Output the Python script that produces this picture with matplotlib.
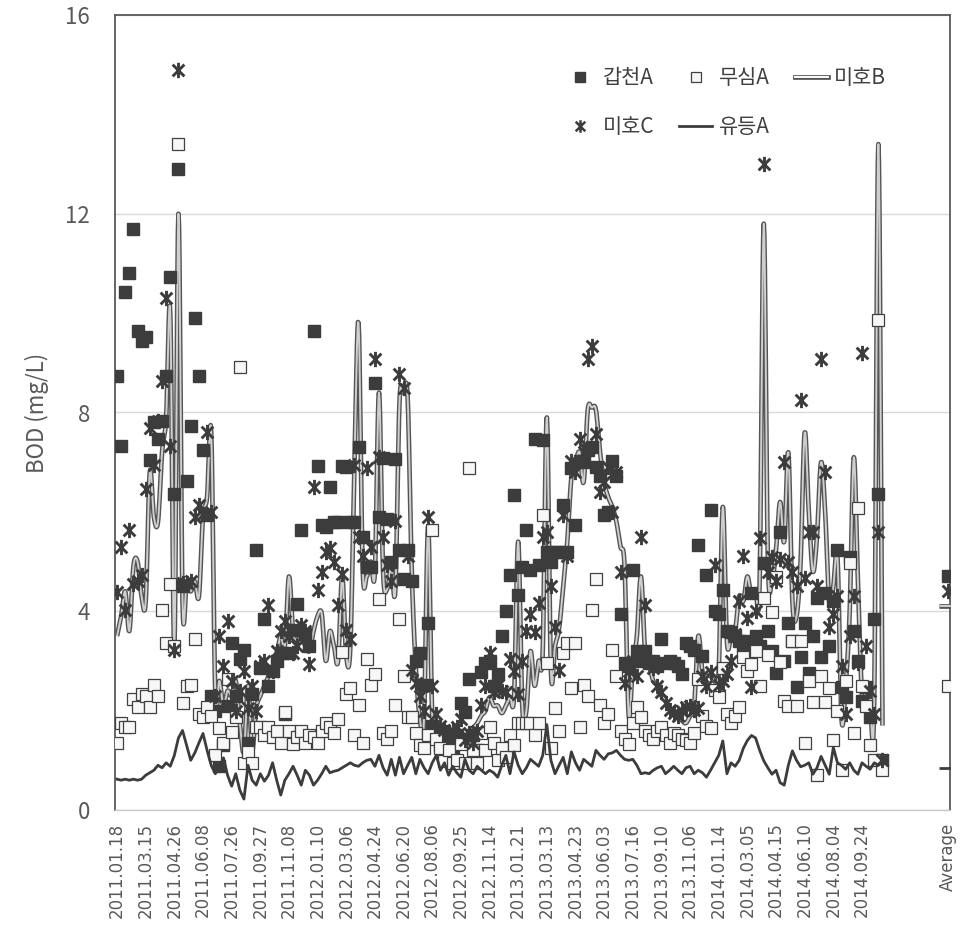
import numpy as np
import matplotlib
matplotlib.use("Agg")
import matplotlib.pyplot as plt
from matplotlib.path import Path
from matplotlib.lines import Line2D

plt.rcParams['font.family'] = ['Noto Sans CJK KR', 'DejaVu Sans']
plt.rcParams['axes.unicode_minus'] = False

# ---- data (BOD, mg/L), one value per sampling date ----
date_labels = [
    "2011.01.18", "2011.03.15", "2011.04.26", "2011.06.08", "2011.07.26",
    "2011.09.27", "2011.11.08", "2012.01.10", "2012.03.06", "2012.04.24",
    "2012.06.20", "2012.08.06", "2012.09.25", "2012.11.14", "2013.01.21",
    "2013.03.13", "2013.04.23", "2013.06.03", "2013.07.16", "2013.09.10",
    "2013.11.06", "2014.01.14", "2014.03.05", "2014.04.15", "2014.06.10",
    "2014.08.04", "2014.09.24",
]
avg_label = "Average"

gapcheon_a = [
    8.73, 7.32, 10.42, 10.81, 11.7, 9.64, 9.44, 9.51, 7.04, 7.8,
    7.46, 7.83, 8.73, 10.73, 6.35, 12.9, 4.5, 6.62, 7.72, 9.91,
    8.73, 7.24, 5.94, 2.3, 2.0, 0.88, 1.3, 2.09, 3.37, 2.3,
    3.04, 3.22, 1.35, 2.34, 5.23, 2.86, 3.84, 2.5, 2.8, 3.0,
    3.15, 1.94, 3.15, 3.62, 4.15, 5.63, 3.55, 3.3, 9.64, 6.93,
    5.74, 5.7, 6.5, 5.8, 5.8, 6.93, 6.9, 5.8, 5.8, 7.3,
    5.5, 4.9, 4.9, 8.6, 5.9, 7.08, 5.85, 5.0, 7.06, 5.23,
    4.65, 5.23, 4.6, 3.0, 3.15, 2.52, 3.77, 1.7, 1.5, 1.3,
    1.6, 1.4, 1.2, 1.5, 2.16, 1.98, 2.63, 1.5, 1.2, 2.78,
    2.96, 3.0, 2.5, 2.74, 3.51, 4.0, 4.72, 6.33, 4.32, 4.9,
    5.63, 4.83, 7.46, 4.94, 7.45, 5.19, 5.0, 5.2, 5.2, 6.14,
    5.2, 6.88, 5.74, 7.02, 7.0, 7.24, 7.3, 6.91, 6.73, 5.93,
    6.0, 7.02, 6.73, 3.95, 2.96, 2.9, 4.83, 3.2, 3.0, 3.2,
    2.96, 3.0, 2.9, 3.44, 2.96, 3.0, 2.96, 2.9, 2.74, 3.36,
    3.3, 3.22, 5.34, 3.1, 4.72, 6.03, 4.0, 3.95, 4.43, 3.6,
    3.58, 3.5, 3.4, 3.3, 3.4, 4.36, 3.5, 3.3, 4.97, 3.6,
    3.2, 2.76, 5.6, 3.0, 3.77, 3.4, 2.47, 3.07, 3.77, 2.76,
    3.5, 4.27, 3.07, 4.36, 3.3, 4.2, 5.24, 2.47, 2.28, 5.1,
    3.6, 3.0, 2.2, 2.47, 1.87, 3.85, 6.35, 1.0,
]
musim_a = [
    1.35, 1.76, 1.68, 1.68, 2.23, 2.08, 2.34, 2.3, 2.08, 2.52,
    2.3, 4.02, 3.37, 4.54, 3.3, 13.4, 2.16, 2.5, 2.52, 3.44,
    1.94, 1.87, 2.08, 1.9, 1.1, 1.65, 1.35, 2.63, 1.57, 1.87,
    8.92, 0.95, 1.17, 0.95, 1.68, 1.68, 1.5, 1.68, 1.46, 1.6,
    1.35, 1.98, 1.6, 1.32, 1.46, 1.6, 1.35, 1.5, 1.46, 1.35,
    1.6, 1.76, 1.68, 1.54, 1.83, 3.18, 2.34, 2.45, 1.5, 2.12,
    1.35, 3.04, 2.52, 2.74, 4.24, 1.54, 1.43, 1.6, 2.12, 3.84,
    2.7, 1.87, 1.87, 1.54, 1.3, 1.24, 1.5, 5.63, 1.43, 1.24,
    0.99, 1.2, 0.95, 1.0, 1.32, 0.95, 6.88, 1.2, 0.95, 1.54,
    1.2, 1.68, 1.35, 1.0, 1.24, 1.06, 1.5, 1.3, 1.76, 1.76,
    1.76, 1.76, 1.5, 1.76, 5.94, 2.96, 1.24, 2.05, 1.6, 3.15,
    3.37, 2.45, 3.37, 1.68, 2.52, 2.3, 4.02, 4.65, 2.12, 1.76,
    1.94, 3.22, 2.7, 1.6, 1.43, 1.32, 1.76, 2.08, 1.87, 1.6,
    1.5, 1.43, 1.6, 1.68, 1.5, 1.35, 1.54, 1.5, 1.43, 1.4,
    1.35, 1.54, 2.63, 1.9, 1.7, 1.65, 2.41, 2.27, 2.85, 1.94,
    1.76, 1.9, 2.08, 3.07, 2.8, 2.93, 3.2, 2.5, 4.27, 3.11,
    3.99, 4.68, 2.97, 2.2, 2.1, 3.4, 2.1, 3.4, 1.35, 2.6,
    2.18, 0.7, 2.69, 2.18, 2.45, 1.4, 1.99, 0.8, 2.6, 4.97,
    1.55, 6.07, 2.5, 2.1, 1.3, 1.0, 9.86, 0.8,
]
miho_b = [
    3.5, 3.9, 4.4, 3.6, 4.9, 5.0, 4.3, 4.2, 6.8, 5.9,
    5.8, 7.2, 7.9, 10.0, 3.25, 12.0, 4.2, 4.6, 4.4, 4.6,
    4.3, 5.9, 6.3, 7.6, 2.34, 2.6, 2.1, 2.4, 2.3, 2.6,
    1.75, 1.17, 2.5, 1.24, 2.05, 2.3, 2.5, 2.7, 2.85, 3.15,
    3.5, 3.3, 4.7, 3.6, 3.4, 3.5, 3.3, 3.2, 3.6, 3.9,
    3.95, 3.0, 3.6, 3.3, 3.0, 4.7, 3.1, 3.3, 6.95, 9.8,
    4.9, 4.7, 5.0, 4.8, 8.4, 4.8, 4.45, 4.9, 4.45, 8.2,
    8.4, 8.3, 4.8, 2.85, 1.83, 1.83, 5.7, 1.9, 1.75, 1.65,
    1.6, 1.55, 1.55, 1.5, 1.55, 1.5, 1.55, 1.65, 1.75, 1.9,
    2.0, 2.27, 2.1, 2.1, 1.95, 2.1, 2.27, 2.3, 5.4, 2.1,
    2.0, 3.2, 2.5, 3.0, 3.2, 7.9, 2.8, 3.3, 3.66, 4.5,
    5.4, 6.7, 7.0, 7.2, 6.6, 8.05, 8.1, 8.05, 7.2, 6.6,
    6.3, 6.1, 5.8, 5.3, 4.9, 1.9, 2.9, 3.5, 4.7, 3.2,
    2.9, 2.6, 2.5, 2.3, 2.2, 2.05, 2.0, 1.9, 1.8, 1.75,
    1.9, 2.1, 3.5, 2.8, 2.7, 2.7, 2.6, 2.8, 6.1, 3.4,
    3.5, 3.6, 4.3, 4.2, 4.7, 4.3, 4.4, 4.6, 11.8, 5.06,
    4.6, 5.24, 6.2, 5.4, 7.2, 4.2, 3.9, 5.0, 7.6, 6.0,
    4.8, 5.5, 7.0, 6.0, 4.2, 4.5, 5.1, 1.83, 2.5, 4.0,
    7.1, 4.6, 2.3, 2.0, 2.0, 2.3, 13.4, 1.7,
]
miho_c = [
    4.39, 5.3, 4.02, 5.63, 4.54, 4.6, 4.72, 6.47, 7.68, 6.95,
    7.83, 8.63, 10.31, 7.32, 3.22, 14.9, 4.57, 4.57, 4.6, 5.89,
    6.14, 5.95, 7.61, 6.0, 2.3, 3.51, 2.89, 3.8, 2.6, 2.0,
    2.4, 2.8, 2.05, 2.5, 2.0, 2.9, 3.0, 4.13, 2.8, 3.2,
    3.6, 3.8, 3.5, 3.15, 3.3, 3.73, 3.6, 2.93, 6.51, 4.43,
    4.79, 5.19, 5.27, 5.0, 4.13, 4.75, 3.62, 3.44, 6.95, 5.5,
    5.12, 6.88, 5.3, 9.07, 7.1, 5.5, 4.94, 4.61, 5.82, 8.78,
    8.49, 5.12, 2.82, 2.56, 2.3, 2.0, 5.89, 2.5, 1.94, 1.7,
    1.61, 1.5, 1.6, 1.68, 1.83, 1.4, 1.54, 1.35, 1.6, 2.12,
    2.5, 3.15, 2.38, 2.52, 2.4, 2.38, 3.04, 2.8, 2.34, 3.0,
    3.6, 3.95, 3.58, 4.17, 5.49, 5.6, 4.5, 3.69, 2.82, 5.93,
    5.12, 7.02, 6.8, 7.46, 7.2, 9.07, 9.33, 7.57, 6.4, 6.6,
    6.9, 6.0, 6.8, 4.79, 2.56, 2.8, 3.0, 2.7, 5.49, 4.13,
    3.0, 2.85, 2.5, 2.38, 2.16, 2.01, 1.95, 1.9, 2.0, 2.08,
    2.1, 2.01, 2.05, 2.7, 2.5, 2.78, 4.94, 2.52, 2.6, 2.74,
    3.0, 3.55, 4.2, 5.12, 3.86, 2.47, 4.0, 5.47, 13.0, 4.8,
    5.1, 4.6, 5.06, 7.0, 5.0, 4.8, 4.5, 8.25, 4.67, 5.6,
    5.6, 4.5, 9.07, 6.8, 3.68, 3.95, 4.3, 2.9, 1.93, 3.5,
    4.31, 2.96, 9.2, 3.3, 2.4, 1.93, 5.6, 1.0,
]
yudeung_a = [
    0.62, 0.6, 0.62, 0.6, 0.62, 0.6, 0.62, 0.7, 0.75, 0.8,
    0.9, 0.85, 0.95, 0.88, 1.1, 1.45, 1.6, 1.3, 1.0, 1.15,
    1.35, 1.54, 1.2, 0.9, 0.73, 0.85, 1.05, 0.7, 0.48, 0.73,
    0.4, 0.22, 0.9, 0.6, 0.5, 0.73, 0.58, 0.7, 0.95, 0.6,
    0.3, 0.6, 0.73, 0.88, 0.7, 0.5, 0.8, 0.7, 0.5, 0.6,
    0.73, 0.88, 0.75, 0.78, 0.8, 0.85, 0.9, 0.95, 0.9, 0.88,
    0.95, 1.0, 1.02, 0.88, 1.1, 0.85, 0.7, 1.02, 0.7, 1.06,
    0.73, 0.9, 1.06, 0.73, 1.02, 0.85, 0.73, 0.95, 1.1, 0.8,
    0.95, 0.7, 0.88, 0.75, 0.66, 1.02, 0.8, 0.73, 0.88, 0.8,
    0.73, 0.8, 0.75, 0.66, 0.9, 1.1, 0.73, 1.17, 0.9, 0.73,
    0.85, 1.02, 0.95, 0.88, 1.1, 1.72, 1.0, 0.73, 0.9, 1.06,
    0.73, 1.17, 0.95, 0.8, 1.02, 0.95, 0.88, 1.2, 1.1, 1.02,
    1.13, 1.15, 1.2, 1.1, 1.02, 1.0, 1.02, 0.9, 0.73, 0.75,
    0.73, 0.8, 0.85, 0.88, 0.73, 0.8, 0.88, 0.8, 0.73, 0.85,
    0.88, 0.73, 0.8, 0.75, 0.66, 0.8, 0.95, 1.1, 1.39, 0.73,
    0.95, 0.88, 1.0, 1.24, 1.4, 1.5, 1.45, 1.2, 0.99, 0.85,
    0.72, 0.8, 0.55, 0.5, 0.9, 1.19, 1.0, 0.87, 0.9, 0.95,
    0.72, 0.85, 1.08, 0.9, 0.72, 1.26, 0.95, 0.9, 0.82, 0.95,
    0.8, 0.72, 0.95, 0.88, 0.82, 0.95, 0.9, 0.95,
]
# station averages, shown in the last category
avg_gapcheon_a = 4.7
avg_musim_a = 2.5
avg_miho_b = 4.1
avg_miho_c = 4.4
avg_yudeung_a = 0.85

# ---- category axis: one slot per date, a gap, then "Average" ----
label_step = 7
n_slots = 204
avg_pos = n_slots - 1
x = np.arange(len(miho_b))


def smooth(xs, ys, steps=8):
    # Catmull-Rom curve through the points (like Excel's smoothed line)
    xs = np.asarray(xs, float)
    ys = np.asarray(ys, float)
    px = np.concatenate([[2 * xs[0] - xs[1]], xs, [2 * xs[-1] - xs[-2]]])
    py = np.concatenate([[2 * ys[0] - ys[1]], ys, [2 * ys[-1] - ys[-2]]])
    t = np.linspace(0, 1, steps, endpoint=False)[:, None]

    def seg(p):
        p0, p1, p2, p3 = p[:-3], p[1:-2], p[2:-1], p[3:]
        c = 0.5 * (2 * p1 + (-p0 + p2) * t + (2 * p0 - 5 * p1 + 4 * p2 - p3) * t ** 2
                   + (-p0 + 3 * p1 - 3 * p2 + p3) * t ** 3)
        return np.append(c.T.ravel(), p[-2])

    return seg(px), seg(py)


star = Path([(-1, -1), (1, 1), (-1, 1), (1, -1), (0, -1.3), (0, 1.3)],
            [Path.MOVETO, Path.LINETO] * 3)

dark = "#3c3c3c"
outer_c = "#555555"
inner_c = "#cfcfcf"

fig = plt.figure(figsize=(9.6, 9.3), dpi=100)
ax = fig.add_axes([115 / 960, 1 - 810 / 930, (950 - 115) / 960, (810 - 15) / 930])

# 미호B: double line
sx, sy = smooth(x, miho_b)
ax.plot(sx, sy, color=outer_c, lw=3.4, zorder=3, solid_capstyle="butt")
ax.plot(sx, sy, color=inner_c, lw=1.4, zorder=3.1, solid_capstyle="butt")
ax.plot([avg_pos], [avg_miho_b], ls="none", marker="_", ms=13, mew=3.4, color=outer_c, zorder=3)
ax.plot([avg_pos], [avg_miho_b], ls="none", marker="_", ms=11, mew=1.4, color=inner_c, zorder=3.1)

# 갑천A: filled squares
ax.plot(list(x) + [avg_pos], gapcheon_a + [avg_gapcheon_a], ls="none", marker="s",
        ms=8, color=dark, mec=dark, zorder=4)
# 무심A: open squares
ax.plot(list(x) + [avg_pos], musim_a + [avg_musim_a], ls="none", marker="s",
        ms=8, mfc="#f7f7f7", mec="#404040", mew=0.9, zorder=4)
# 미호C: asterisks
ax.plot(list(x) + [avg_pos], miho_c + [avg_miho_c], ls="none", marker=star,
        ms=11, mfc="none", mec=dark, mew=2.1, zorder=5)
# 유등A: solid line
ax.plot(x, yudeung_a, color=dark, lw=2.0, zorder=6)
ax.plot([avg_pos], [avg_yudeung_a], ls="none", marker="_", ms=13, mew=2.0, color=dark, zorder=6)

# axes styling
ax.set_xlim(-0.5, n_slots - 0.5)
ax.set_ylim(0, 16)
ax.set_yticks([0, 4, 8, 12, 16])
ax.yaxis.grid(True, color="#d9d9d9", lw=1.0)
ax.set_axisbelow(True)
tick_pos = list(range(0, len(date_labels) * label_step, label_step)) + [avg_pos]
ax.set_xticks(tick_pos)
ax.set_xticklabels(date_labels + [avg_label], rotation=90, fontsize=12,
                   color="#595959", family=["DejaVu Sans"])
ax.tick_params(axis="x", length=0, pad=9)
ax.tick_params(axis="y", length=0, pad=18, labelsize=16, labelcolor="#595959")
for side in ["left", "top", "right"]:
    ax.spines[side].set_color("#595959")
    ax.spines[side].set_linewidth(1.3)
ax.spines["bottom"].set_color("#c8c8c8")
ax.spines["bottom"].set_linewidth(1.0)
ax.set_ylabel("BOD (mg/L)", fontsize=16, color="#595959", labelpad=12)

# legend (row order: 갑천A 무심A 미호B / 미호C 유등A)
h_gap = Line2D([], [], ls="none", marker="s", ms=7, color=dark)
h_mus = Line2D([], [], ls="none", marker="s", ms=7, mfc="#f7f7f7", mec="#404040", mew=0.9)
h_mb = (Line2D([], [], color=outer_c, lw=3.4), Line2D([], [], color="#ffffff", lw=1.4))
h_mc = Line2D([], [], ls="none", marker=star, ms=9, mfc="none", mec=dark, mew=1.8)
h_yd = Line2D([], [], color=dark, lw=2.0)
fig.legend([h_gap, h_mc, h_mus, h_yd, h_mb],
           ["갑천A", "미호C", "무심A", "유등A", "미호B"],
           ncol=3, loc="upper left", bbox_to_anchor=(0.567, 0.948),
           frameon=False, fontsize=15, handlelength=1.6, handletextpad=0.3,
           columnspacing=1.2, labelspacing=1.3, labelcolor="#404040")

fig.savefig("out.png", dpi=100)
